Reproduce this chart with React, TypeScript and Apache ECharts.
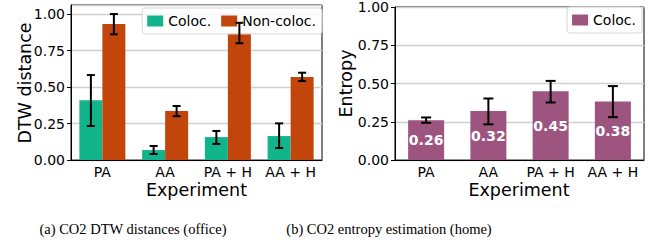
import React, { useEffect, useRef } from "react";
import * as echarts from "echarts";

const categories = ["PA", "AA", "PA + H", "AA + H"];
const yTicks = [0, 0.25, 0.5, 0.75, 1.0];

const colocDTW = [0.41, 0.068, 0.157, 0.164];
const colocDTWLow = [0.233, 0.041, 0.11, 0.082];
const colocDTWHigh = [0.582, 0.096, 0.199, 0.251];

const nonColocDTW = [0.932, 0.336, 0.872, 0.568];
const nonColocDTWLow = [0.861, 0.3, 0.8, 0.541];
const nonColocDTWHigh = [1.0, 0.37, 0.94, 0.598];

const entropy = [0.26, 0.32, 0.45, 0.383];
const entropyLow = [0.243, 0.233, 0.376, 0.28];
const entropyHigh = [0.278, 0.402, 0.517, 0.483];

const GREEN = "#12b48b";
const ORANGE = "#c2460b";
const PURPLE = "#9d5580";
const FONT = "DejaVu Sans";

function errorSeries(low: number[], high: number[], offset: number, cap: number) {
  return {
    type: "custom",
    silent: true,
    z: 5,
    data: low.map((l, i) => [i, l, high[i]]),
    encode: { x: 0, y: [1, 2] },
    renderItem: (params: any, api: any) => {
      const i = api.value(0);
      const pLo = api.coord([i, api.value(1)]);
      const pHi = api.coord([i, api.value(2)]);
      const x = pLo[0] + offset;
      const st = { stroke: "#000", lineWidth: 2 };
      return {
        type: "group",
        children: [
          { type: "line", shape: { x1: x, y1: pLo[1], x2: x, y2: pHi[1] }, style: st },
          { type: "line", shape: { x1: x - cap / 2, y1: pLo[1], x2: x + cap / 2, y2: pLo[1] }, style: st },
          { type: "line", shape: { x1: x - cap / 2, y1: pHi[1], x2: x + cap / 2, y2: pHi[1] }, style: st },
        ],
      };
    },
  };
}

function yAxisCommon(max: number) {
  return {
    type: "value",
    min: 0,
    max,
    interval: 0.25,
    axisLine: { show: true, lineStyle: { color: "#000", width: 1 } },
    axisTick: { show: true, inside: false, length: 4, lineStyle: { color: "#000" } },
    axisLabel: {
      margin: 6,
      fontFamily: FONT,
      fontSize: 14,
      color: "#000",
      showMaxLabel: max === 1,
      formatter: (v: number) => (yTicks.some((t) => Math.abs(t - v) < 1e-6) ? v.toFixed(2) : ""),
    },
    splitLine: { show: true, lineStyle: { color: "#d0d0d0", width: 1.3 } },
  };
}

const xAxisCommon = {
  type: "category",
  data: categories,
  axisLine: { show: true, lineStyle: { color: "#000", width: 1 } },
  axisTick: { show: false },
  axisLabel: { margin: 5, fontFamily: FONT, fontSize: 14, color: "#000", interval: 0 },
};

const legendCommon = {
  orient: "horizontal",
  itemWidth: 16,
  itemHeight: 11,
  itemGap: 10,
  backgroundColor: "rgba(255,255,255,0.8)",
  borderColor: "#d8d8d8",
  borderWidth: 1,
  borderRadius: 3,
  padding: [6, 6, 6, 5],
  textStyle: { fontFamily: FONT, fontSize: 14, color: "#000" },
  icon: "rect",
};

function leftOption() {
  return {
    animation: false,
    grid: { left: 71, right: 8, top: 5, bottom: 83, show: true, borderColor: "#000", borderWidth: 1, backgroundColor: "transparent" },
    legend: { ...legendCommon, data: ["Coloc.", "Non-coloc."], right: 8, top: 8 },
    xAxis: xAxisCommon,
    yAxis: yAxisCommon(1.062),
    graphic: [
      { type: "text", x: 25, y: 83, rotation: Math.PI / 2, style: { text: "DTW distance", font: `17.5px '${FONT}'`, fill: "#000", align: "center", verticalAlign: "middle" } },
      { type: "text", x: 196.5, y: 190, style: { text: "Experiment", font: `17.5px '${FONT}'`, fill: "#000", align: "center", verticalAlign: "middle" } },
      { type: "text", x: 133, y: 229, style: { text: "(a) CO2 DTW distances (office)", font: `14.5px 'Liberation Serif'`, fill: "#000", align: "center", verticalAlign: "middle" } },
    ],
    series: [
      { name: "Coloc.", type: "bar", data: colocDTW, barWidth: 23, barGap: "0%", itemStyle: { color: GREEN } },
      { name: "Non-coloc.", type: "bar", data: nonColocDTW, barWidth: 23, barGap: "0%", itemStyle: { color: ORANGE } },
      errorSeries(colocDTWLow, colocDTWHigh, -11.5, 8),
      errorSeries(nonColocDTWLow, nonColocDTWHigh, 11.5, 8),
    ],
  };
}

// right chart div starts at x = 200 of the page
function rightOption() {
  return {
    animation: false,
    grid: { left: 195, right: 13, top: 7, bottom: 83, show: true, borderColor: "#000", borderWidth: 1, backgroundColor: "transparent" },
    legend: { ...legendCommon, data: ["Coloc."], right: 15, top: 7 },
    xAxis: xAxisCommon,
    yAxis: yAxisCommon(1),
    graphic: [
      { type: "text", x: 146, y: 83.5, rotation: Math.PI / 2, style: { text: "Entropy", font: `17.5px '${FONT}'`, fill: "#000", align: "center", verticalAlign: "middle" } },
      { type: "text", x: 319, y: 190, style: { text: "Experiment", font: `17.5px '${FONT}'`, fill: "#000", align: "center", verticalAlign: "middle" } },
      { type: "text", x: 189, y: 229, style: { text: "(b) CO2 entropy estimation (home)", font: `14.5px 'Liberation Serif'`, fill: "#000", align: "center", verticalAlign: "middle" } },
    ],
    series: [
      {
        name: "Coloc.",
        type: "bar",
        data: entropy,
        barWidth: 36,
        itemStyle: { color: PURPLE },
        label: {
          show: true,
          position: "inside",
          color: "#fff",
          fontFamily: FONT,
          fontWeight: "bold",
          fontSize: 14,
          formatter: (p: any) => Number(p.value).toFixed(2),
        },
      },
      errorSeries(entropyLow, entropyHigh, 0, 10),
    ],
  };
}

function Chart({ option, left, width }: { option: any; left: number; width: number }) {
  const ref = useRef<HTMLDivElement>(null);
  useEffect(() => {
    if (!ref.current) return;
    const chart = echarts.init(ref.current, undefined, { renderer: "svg" });
    chart.setOption(option);
    return () => chart.dispose();
  }, []);
  return <div ref={ref} style={{ position: "absolute", left, top: 0, width, height: 243 }} />;
}

export default function App() {
  useEffect(() => {
    document.body.style.margin = "0";
  }, []);
  return (
    <div style={{ position: "relative", width: 657, height: 243, background: "#fff" }}>
      <Chart option={leftOption()} left={0} width={330} />
      <Chart option={rightOption()} left={200} width={457} />
    </div>
  );
}
